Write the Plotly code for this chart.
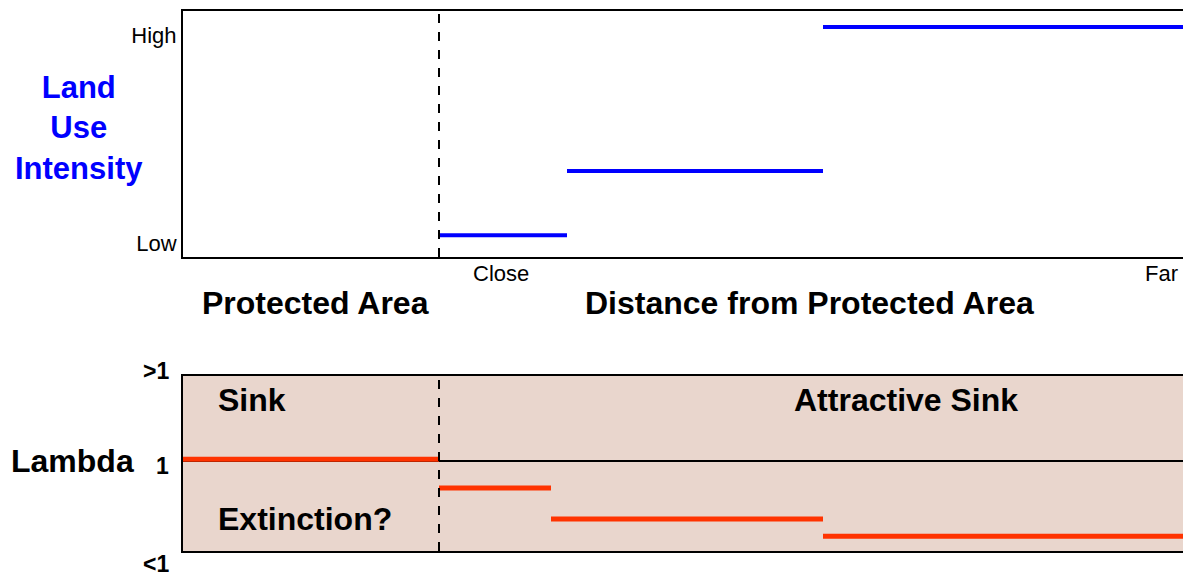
import plotly.graph_objects as go

# ---- data ----
distance_start = [2.0, 3.0, 5.0]
distance_end = [3.0, 5.0, 7.875]
land_use = [0.038, 0.346, 1.038]

lambda_start = [0.0, 2.0, 2.875, 5.0]
lambda_end = [2.0, 2.875, 5.0, 7.875]
lambda_vals = [1.011, 0.846, 0.669, 0.571]

land_ticks = [0, 1]
land_tick_text = ["Low", "High"]
boundary_x = 2.0
x_range = [0, 7.875]

FONT = "Arial, Liberation Sans, sans-serif"
BLUE = "#0000FF"
RED = "#FF3300"
FILL = "#E9D6CD"


def seg_xy(starts, ends, vals):
    xs, ys = [], []
    for s, e, v in zip(starts, ends, vals):
        xs += [s, e, None]
        ys += [v, v, None]
    return xs, ys


fig = go.Figure()
lx, ly = seg_xy(distance_start, distance_end, land_use)
fig.add_trace(go.Scatter(x=lx, y=ly, mode="lines", line=dict(color=BLUE, width=4),
                         xaxis="x", yaxis="y", showlegend=False, hoverinfo="skip"))
mx, my = seg_xy(lambda_start, lambda_end, lambda_vals)
fig.add_trace(go.Scatter(x=mx, y=my, mode="lines", line=dict(color=RED, width=5),
                         xaxis="x2", yaxis="y2", showlegend=False, hoverinfo="skip"))

shapes = [
    dict(type="rect", xref="x2 domain", yref="y2 domain", x0=0, x1=1, y0=0, y1=1,
         fillcolor=FILL, line=dict(width=0), layer="below"),
    dict(type="line", xref="x2 domain", yref="y2", x0=0, x1=1, y0=1, y1=1,
         line=dict(color="black", width=2), layer="below"),
    dict(type="line", xref="x", yref="y domain", x0=boundary_x, x1=boundary_x, y0=0, y1=1,
         line=dict(color="black", width=2, dash="dash")),
    dict(type="line", xref="x2", yref="y2 domain", x0=boundary_x, x1=boundary_x, y0=0, y1=1,
         line=dict(color="black", width=2, dash="dash")),
]

bold = dict(family=FONT, size=32, color="black")
small_bold = dict(family=FONT, size=23, color="black")
reg = dict(family=FONT, size=22, color="black")
ann = [
    dict(text="<b>Land<br>Use<br>Intensity</b>", xref="paper", yref="paper", x=-0.103, y=0.783,
         font=dict(family=FONT, size=31, color=BLUE), showarrow=False, xanchor="center", yanchor="middle"),
    dict(text="<b>Protected Area</b>", xref="paper", yref="paper", x=0.131, y=0.459,
         font=bold, showarrow=False, xanchor="center", yanchor="middle"),
    dict(text="<b>Distance from Protected Area</b>", xref="paper", yref="paper", x=0.622, y=0.459,
         font=bold, showarrow=False, xanchor="center", yanchor="middle"),
    dict(text="Close", xref="x", yref="paper", x=2.484, y=0.513,
         font=reg, showarrow=False, xanchor="center", yanchor="middle"),
    dict(text="Far", xref="paper", yref="paper", x=0.989, y=0.513,
         font=reg, showarrow=False, xanchor="right", yanchor="middle"),
    dict(text="<b>Lambda</b>", xref="paper", yref="paper", x=-0.110, y=0.1667,
         font=bold, showarrow=False, xanchor="center", yanchor="middle"),
    dict(text="<b>&gt;1</b>", xref="paper", yref="paper", x=-0.012, y=0.3333,
         font=small_bold, showarrow=False, xanchor="right", yanchor="middle"),
    dict(text="<b>1</b>", xref="paper", yref="paper", x=-0.012, y=0.157,
         font=small_bold, showarrow=False, xanchor="right", yanchor="middle"),
    dict(text="<b>&lt;1</b>", xref="paper", yref="paper", x=-0.012, y=-0.024,
         font=small_bold, showarrow=False, xanchor="right", yanchor="middle"),
    dict(text="<b>Sink</b>", xref="x2", yref="y2", x=0.539, y=1.349,
         font=bold, showarrow=False, xanchor="center", yanchor="middle"),
    dict(text="<b>Attractive Sink</b>", xref="x2", yref="y2", x=5.648, y=1.349,
         font=bold, showarrow=False, xanchor="center", yanchor="middle"),
    dict(text="<b>Extinction?</b>", xref="x2", yref="y2", x=0.953, y=0.669,
         font=bold, showarrow=False, xanchor="center", yanchor="middle"),
]

fig.update_layout(
    width=1183, height=568,
    margin=dict(l=175, r=0, t=3, b=25),
    paper_bgcolor="white", plot_bgcolor="rgba(0,0,0,0)",
    font=dict(family=FONT, color="black"),
    xaxis=dict(domain=[0, 1], range=x_range, anchor="y", showline=True, mirror=True,
               linecolor="black", linewidth=2, showgrid=False, zeroline=False,
               showticklabels=False, ticks=""),
    yaxis=dict(domain=[0.5444, 1], range=[-0.067, 1.115], anchor="x", showline=True,
               linecolor="black", linewidth=2, showgrid=False, zeroline=False,
               tickvals=land_ticks, ticktext=land_tick_text, ticks="",
               tickfont=dict(family=FONT, size=22, color="black")),
    xaxis2=dict(domain=[0, 1], range=x_range, anchor="y2", showline=True, mirror=True,
                linecolor="black", linewidth=2, showgrid=False, zeroline=False,
                showticklabels=False, ticks=""),
    yaxis2=dict(domain=[0, 0.324], range=[0.486, 1.486], anchor="x2", showline=True,
                linecolor="black", linewidth=2, showgrid=False, zeroline=False,
                showticklabels=False, ticks=""),
    shapes=shapes,
    annotations=ann,
)

fig.write_html("out.html")
